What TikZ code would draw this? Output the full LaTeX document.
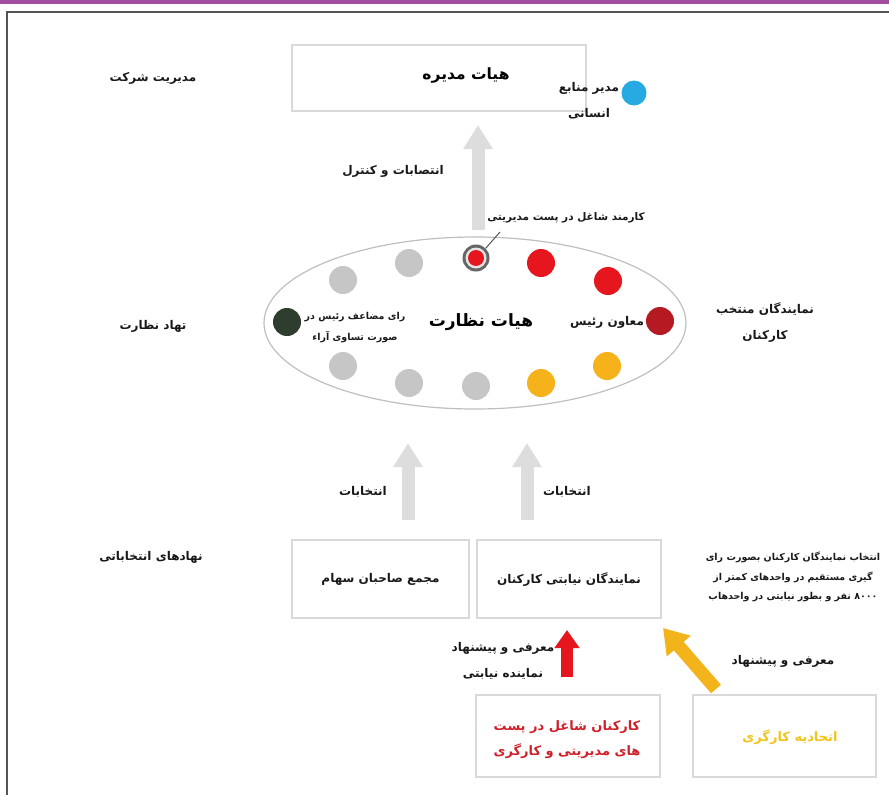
\documentclass[tikz,border=0pt]{standalone}
\usepackage{fontspec}
\newfontfamily\fa[Script=Arabic]{DejaVu Sans}
\TeXXeTstate=1
\usetikzlibrary{arrows.meta,shapes.geometric}
\newcommand\rtl[1]{\beginR #1\endR}
\definecolor{purplebar}{HTML}{A34DA0}
\definecolor{framegrey}{HTML}{555555}
\definecolor{boxgrey}{HTML}{D9D9D9}
\definecolor{arrgrey}{HTML}{DDDDDD}
\definecolor{dotgrey}{HTML}{C6C6C6}
\definecolor{dotred}{HTML}{E5161E}
\definecolor{dotdarkred}{HTML}{B51A22}
\definecolor{dotorange}{HTML}{F5B21A}
\definecolor{dotgreen}{HTML}{2F3D2E}
\definecolor{dotblue}{HTML}{27AAE1}
\definecolor{txtred}{HTML}{D0202A}
\definecolor{txtyellow}{HTML}{F2C318}
\definecolor{arryellow}{HTML}{F3B31B}
\tikzset{
  lbl/.style={font=\fa\bfseries\fontsize{12}{26}\selectfont, align=center, inner sep=0pt, text=black!90},
  small/.style={font=\fa\bfseries\fontsize{10}{20}\selectfont, align=center, inner sep=0pt, text=black!90},
  title/.style={font=\fa\bfseries\fontsize{15.5}{20}\selectfont, align=center, inner sep=0pt},
  plainbox/.style={draw=boxgrey, line width=1.3pt, inner sep=0pt},
  dot/.style={circle, inner sep=0pt, minimum size=28pt},
  bigarrow/.style={draw=arrgrey, line width=13pt, -{Triangle[width=28pt,length=24pt]}},
}
\begin{document}
\begin{tikzpicture}[x=1pt,y=-1pt]
\useasboundingbox (0,0) rectangle (889,795);
\fill[purplebar] (0,0) rectangle (889,3.5);
\draw[framegrey, line width=1.5pt] (7,795) -- (7,12) -- (889,12);

% top level
\node[plainbox, minimum width=294pt, minimum height=66pt] (board) at (439,78) {};
\node[title] (boardtitle) at (466,76) {\rtl{هیات مدیره}};
\node[dot, fill=dotblue, minimum size=25pt] (hr) at (634,93) {};
\node[lbl] (hrlbl) at (589,101) {\rtl{مدیر منابع}\\\rtl{انسانی}};
\node[lbl] (mgmt) at (153,78) {\rtl{مدیریت شرکت}};

% appointment arrow
\coordinate (apS) at (478,230);
\coordinate (apE) at (478,125);
\draw[bigarrow] (apS) -- (apE);
\node[lbl] (aplbl) at (393,171) {\rtl{انتصابات و کنترل}};
\node[small, fill=white, inner sep=1pt, font=\fa\bfseries\fontsize{10.5}{20}\selectfont] (mgrlbl) at (566,218) {\rtl{کارمند شاغل در پست مدیریتی}};

% supervisory board
\node[draw=black!25, line width=1.2pt, ellipse, minimum width=422pt, minimum height=172pt, inner sep=0pt] (council) at (475,323) {};
\node[title, fill=white, rounded corners=8pt, inner sep=8pt, font=\fa\bfseries\fontsize{17}{20}\selectfont] (counciltitle) at (481,322) {\rtl{هیات نظارت}};

\node[dot, fill=framegrey!90, minimum size=27pt] (d1) at (476,258) {};
\node[circle, fill=black!10, minimum size=21pt, inner sep=0pt] at (d1) {};
\node[circle, fill=dotred, minimum size=16pt, inner sep=0pt] at (d1) {};
\node[dot, fill=dotred] (d2) at (541,263) {};
\node[dot, fill=dotred] (d3) at (608,281) {};
\node[dot, fill=dotdarkred] (d4) at (660,321) {};
\node[dot, fill=dotorange] (d5) at (607,366) {};
\node[dot, fill=dotorange] (d6) at (541,383) {};
\node[dot, fill=dotgrey] (d7) at (476,386) {};
\node[dot, fill=dotgrey] (d8) at (409,383) {};
\node[dot, fill=dotgrey] (d9) at (343,366) {};
\node[dot, fill=dotgreen] (d10) at (287,322) {};
\node[dot, fill=dotgrey] (d11) at (343,280) {};
\node[dot, fill=dotgrey] (d12) at (409,263) {};
\coordinate (leadE) at (500,232);
\draw[framegrey, line width=1pt] (d1.north east) -- (leadE);

\node[lbl] (vp) at (607,322) {\rtl{معاون رئیس}};
\node[lbl, font=\fa\bfseries\fontsize{9.5}{21}\selectfont] (dbl) at (355,328) {\rtl{رای مضاعف رئیس در}\\\rtl{صورت تساوی آراء}};
\node[lbl] (supv) at (153,326) {\rtl{تهاد نظارت}};
\node[lbl] (elected) at (765,323) {\rtl{نمایندگان منتخب}\\\rtl{کارکنان}};

% election arrows
\coordinate (e1S) at (408,520);
\coordinate (e1E) at (408,443);
\coordinate (e2S) at (527,520);
\coordinate (e2E) at (527,443);
\draw[bigarrow] (e1S) -- (e1E);
\draw[bigarrow] (e2S) -- (e2E);
\node[lbl] (el1) at (363,492) {\rtl{انتخابات}};
\node[lbl] (el2) at (567,492) {\rtl{انتخابات}};

% electoral bodies
\node[lbl] (elbodies) at (151,557) {\rtl{نهادهای انتخاباتی}};
\node[plainbox, minimum width=177pt, minimum height=78pt] (sh) at (380.5,579) {};
\node[lbl] (shlbl) at (sh) {\rtl{مجمع صاحبان سهام}};
\node[plainbox, minimum width=184pt, minimum height=78pt] (reps) at (569,579) {};
\node[lbl] (repslbl) at (reps) {\rtl{نمایندگان نیابتی کارکنان}};
\node[small, font=\fa\bfseries\fontsize{9.5}{19.5}\selectfont] (note) at (793,577) {\rtl{انتخاب نمایندگان کارکنان بصورت رای}\\\rtl{گیری مستقیم در واحدهای کمتر از}\\\rtl{\beginL ۸۰۰۰\endL{} نفر و بطور نیابتی در واحدهاب}};

% bottom
\node[plainbox, minimum width=184pt, minimum height=82pt] (emp) at (568,736) {};
\node[lbl, font=\fa\bfseries\fontsize{13}{25}\selectfont, text=txtred] (emplbl) at (567,740) {\rtl{کارکنان شاغل در پست}\\\rtl{های مدیریتی و کارگری}};
\node[plainbox, minimum width=183pt, minimum height=82pt] (union) at (784.5,736) {};
\node[lbl, font=\fa\bfseries\fontsize{13}{20}\selectfont, text=txtyellow] (unionlbl) at (790,737) {\rtl{اتحادیه کارگری}};

\coordinate (rS) at (567,677);
\coordinate (rE) at (567,630);
\draw[draw=dotred, line width=12pt, -{Triangle[width=24pt,length=18pt]}] (rS) -- (rE);
\coordinate (yS) at (716,689);
\coordinate (yE) at (663,628);
\draw[draw=arryellow, line width=13pt, -{Triangle[width=30pt,length=24pt]}] (yS) -- (yE);
\node[lbl] (prop1) at (503,661) {\rtl{معرفی و پیشنهاد}\\\rtl{نماینده نیابتی}};
\node[lbl] (prop2) at (783,661) {\rtl{معرفی و پیشنهاد}};
\end{tikzpicture}
\end{document}
